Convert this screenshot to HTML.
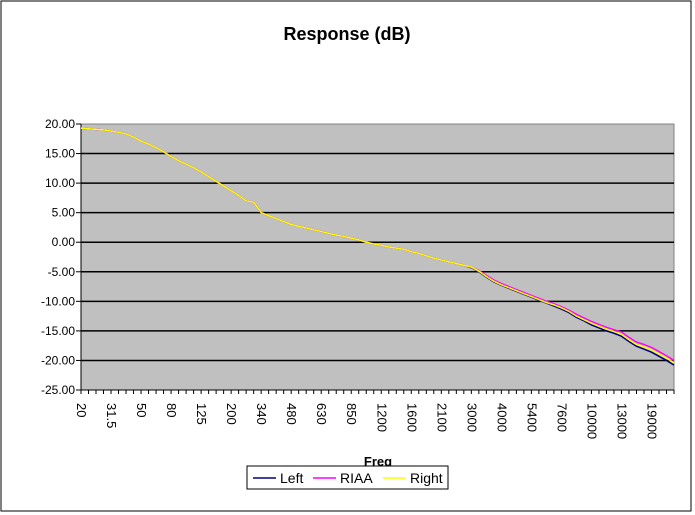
<!DOCTYPE html>
<html><head><meta charset="utf-8"><style>
body{margin:0;background:#fff;font-family:"Liberation Sans",Arial,sans-serif}
svg{display:block}
</style></head><body>
<svg width="695" height="515" id="c">
<rect x="1" y="1" width="690" height="510" fill="#fff" stroke="#000"/>
<text x="347" y="40" text-anchor="middle" font-size="18" font-weight="bold">Response (dB)</text>
<rect x="81" y="124" width="593" height="266" fill="#c0c0c0" stroke="#808080"/>
<g id="grid"></g><g id="axes"></g><g id="series"></g>
<text x="378" y="466" text-anchor="middle" font-size="13" font-weight="bold">Freq</text>
<g>
<rect x="247" y="466" width="201" height="23" fill="#fff" stroke="#000"/>
<line x1="253" y1="478" x2="276" y2="478" stroke="#000080" stroke-width="1.5"/>
<text x="280" y="483" font-size="14">Left</text>
<line x1="313" y1="478" x2="336" y2="478" stroke="#ff00ff" stroke-width="1.5"/>
<text x="340" y="483" font-size="14">RIAA</text>
<line x1="383" y1="478" x2="406" y2="478" stroke="#ffff00" stroke-width="1.5"/>
<text x="410" y="483" font-size="14">Right</text>
</g>
</svg>
<script>
const categories=[20,22,25,28,31.5,35,40,45,50,56,63,71,80,90,100,112,125,140,160,180,200,225,250,300,340,370,400,440,480,520,560,600,630,680,740,800,850,900,1000,1100,1200,1300,1400,1500,1600,1700,1800,2000,2100,2300,2500,2700,3000,3200,3400,3700,4000,4300,4700,5000,5400,5800,6300,7000,7600,8000,8600,9300,10000,11000,11500,12000,13000,14000,15000,17000,19000,20000,21000,22000];
const riaa=[19.3,19.2,19.1,19.0,18.8,18.6,18.3,17.8,17.1,16.6,16.0,15.3,14.5,13.8,13.2,12.6,11.9,11.1,10.3,9.5,8.7,7.9,7.0,6.8,5.0,4.5,4.0,3.5,3.0,2.7,2.4,2.1,1.8,1.5,1.2,1.0,0.7,0.4,0.0,-0.3,-0.5,-0.8,-1.0,-1.2,-1.6,-1.9,-2.3,-2.7,-3.0,-3.3,-3.6,-3.9,-4.2,-4.8,-5.6,-6.4,-7.0,-7.5,-8.0,-8.5,-9.0,-9.5,-10.0,-10.4,-10.9,-11.5,-12.2,-12.8,-13.4,-13.9,-14.4,-14.8,-15.2,-16.1,-16.9,-17.3,-17.8,-18.5,-19.2,-20.0];
const left=[19.3,19.2,19.1,19.0,18.8,18.6,18.3,17.8,17.1,16.6,16.0,15.3,14.5,13.8,13.2,12.6,11.9,11.1,10.3,9.5,8.7,7.9,7.0,6.8,5.0,4.5,4.0,3.5,3.0,2.7,2.4,2.1,1.8,1.5,1.2,1.0,0.7,0.4,0.0,-0.3,-0.5,-0.8,-1.0,-1.2,-1.6,-1.9,-2.3,-2.7,-3.0,-3.3,-3.6,-3.9,-4.3,-5.0,-5.9,-6.7,-7.3,-7.8,-8.3,-8.8,-9.3,-9.8,-10.3,-10.8,-11.3,-11.9,-12.7,-13.3,-14.0,-14.5,-15.0,-15.4,-15.9,-16.8,-17.6,-18.1,-18.6,-19.3,-20.0,-20.8];
const right=[19.3,19.2,19.1,19.0,18.8,18.6,18.3,17.8,17.1,16.6,16.0,15.3,14.5,13.8,13.2,12.6,11.9,11.1,10.3,9.5,8.7,7.9,7.0,6.8,5.0,4.5,4.0,3.5,3.0,2.7,2.4,2.1,1.8,1.5,1.2,1.0,0.7,0.4,0.0,-0.3,-0.5,-0.8,-1.0,-1.2,-1.6,-1.9,-2.3,-2.7,-3.0,-3.3,-3.6,-3.9,-4.2,-4.9,-5.8,-6.6,-7.2,-7.7,-8.2,-8.7,-9.2,-9.7,-10.2,-10.6,-11.1,-11.7,-12.5,-13.1,-13.7,-14.2,-14.7,-15.1,-15.6,-16.5,-17.3,-17.7,-18.2,-18.9,-19.6,-20.4];
const yTicks=[20,15,10,5,0,-5,-10,-15,-20,-25];
const NS="http://www.w3.org/2000/svg";
const X0=81,X1=674,Y0=124,Y1=390,YMAX=20,YMIN=-25;
function xs(i){return X0+i*(X1-X0)/(categories.length-1);}
function ys(v){return Y0+(YMAX-v)*(Y1-Y0)/(YMAX-YMIN);}
function mk(t,a,p){const e=document.createElementNS(NS,t);for(const k in a)e.setAttribute(k,a[k]);p.appendChild(e);return e;}
const grid=document.getElementById('grid'),axes=document.getElementById('axes'),ser=document.getElementById('series');
yTicks.forEach(v=>{
  const y=ys(v);
  if(v<20&&v>-25){const l=mk('line',{x1:X0,x2:X1,y1:y,y2:y,stroke:'#000','stroke-width':1.5},grid);
  
  }
  mk('line',{x1:X0-5,x2:X0,y1:y,y2:y,stroke:'#000'},axes);
  const t=mk('text',{x:X0-6,y:y+4,'text-anchor':'end','font-size':12},axes);
  
  
  t.textContent=v.toFixed(2);
});
mk('line',{x1:X0,x2:X0,y1:Y0,y2:Y1,stroke:'#000'},axes);
mk('line',{x1:X0,x2:X1,y1:Y1,y2:Y1,stroke:'#000'},axes);
categories.forEach((c,i)=>{
  const x=xs(i);
  mk('line',{x1:x,x2:x,y1:Y1,y2:Y1+4,stroke:'#000'},axes);
  if(i%4===0){
    const t=mk('text',{x:0,y:0,'font-size':13,transform:`translate(${x-4},${Y1+13}) rotate(90)`},axes);
    
    
    t.textContent=String(c);
  }
});
function line(vals,color,name){
  const p=mk('polyline',{points:vals.map((v,i)=>xs(i)+','+ys(v)).join(' '),fill:'none',stroke:color,'stroke-width':1.5},ser);
  
  
}
line(left,'#000080','series-left');
line(riaa,'#ff00ff','series-riaa');
line(right,'#ffff00','series-right');
</script>
</body></html>
